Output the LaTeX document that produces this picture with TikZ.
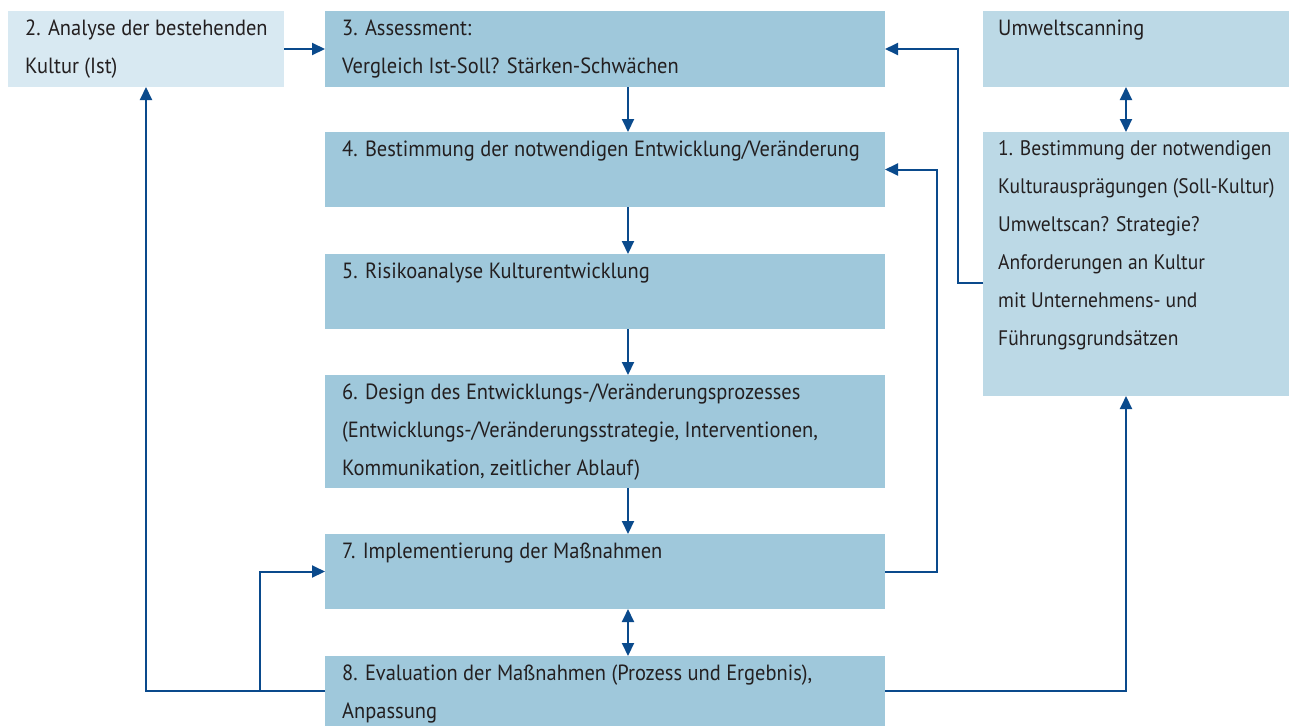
\documentclass[tikz,border=0pt]{standalone}
\usepackage{fontspec}
\setmainfont{PT Sans}[FakeStretch=0.93]
\usetikzlibrary{arrows.meta}
\definecolor{boxdark}{HTML}{9FC8DB}
\definecolor{boxmid}{HTML}{BCD9E6}
\definecolor{boxlight}{HTML}{D8E9F2}
\definecolor{arrowblue}{HTML}{0A4A8C}
\definecolor{textgray}{HTML}{231F20}
\tikzset{box/.style={inner sep=0pt, outer sep=0pt, anchor=north west, fill=boxdark}}
\tikzset{txt/.style={inner sep=0pt, anchor=north west, align=left, text=textgray, font=\fontsize{22}{38}\selectfont, execute at begin node=\strut}}
\tikzset{conn/.style={color=arrowblue, line width=2, -{Triangle[length=13,width=12]}}}
\tikzset{conn2/.style={conn, {Triangle[length=13,width=12]}-{Triangle[length=13,width=12]}}}

\begin{document}
\begin{tikzpicture}[x=1pt, y=-1pt]
  \useasboundingbox (0,0) rectangle (1289,726);

  \node[box, fill=boxlight, minimum width=276, minimum height=76] (ist) at (8,11) {};
  \node[box, minimum width=560, minimum height=76] (assess) at (325,11) {};
  \node[box, minimum width=560, minimum height=75] (bestimm) at (325,132) {};
  \node[box, minimum width=560, minimum height=75] (risiko) at (325,254) {};
  \node[box, minimum width=560, minimum height=113] (design) at (325,375) {};
  \node[box, minimum width=560, minimum height=75] (impl) at (325,534) {};
  \node[box, minimum width=560, minimum height=70] (eval) at (325,656) {};
  \node[box, fill=boxmid, minimum width=306, minimum height=76] (umwelt) at (983,11) {};
  \node[box, fill=boxmid, minimum width=306, minimum height=264] (soll) at (983,132) {};

  \node[txt] (ist-t) at ([shift={(17,9)}]ist.north west) {2. Analyse der bestehenden\\Kultur (Ist)};
  \node[txt] (assess-t) at ([shift={(17,9)}]assess.north west) {3. Assessment:\\Vergleich Ist-Soll? Stärken-Schwächen};
  \node[txt] (bestimm-t) at ([shift={(17,-2)}]bestimm.north west) {4. Bestimmung der notwendigen Entwicklung/Veränderung};
  \node[txt] (risiko-t) at ([shift={(17,-2)}]risiko.north west) {5. Risikoanalyse Kulturentwicklung};
  \node[txt] (design-t) at ([shift={(17,9)}]design.north west) {6. Design des Entwicklungs-/Veränderungsprozesses\\(Entwicklungs-/Veränderungsstrategie, Interventionen,\\Kommunikation, zeitlicher Ablauf)};
  \node[txt] (impl-t) at ([shift={(17,-2)}]impl.north west) {7. Implementierung der Maßnahmen};
  \node[txt] (eval-t) at ([shift={(17,9)}]eval.north west) {8. Evaluation der Maßnahmen (Prozess und Ergebnis),\\Anpassung};
  \node[txt] (umwelt-t) at ([shift={(15,-2)}]umwelt.north west) {Umweltscanning};
  \node[txt, font=\fontsize{21}{38}\selectfont] (soll-t) at ([shift={(15,8)}]soll.north west) {1. Bestimmung der notwendigen\\Kulturausprägungen (Soll-Kultur)\\Umweltscan? Strategie?\\Anforderungen an Kultur\\mit Unternehmens- und\\Führungsgrundsätzen};

  \coordinate (mx) at (628,0);
  \coordinate (ax) at (1126,0);
  \coordinate (br) at (260,0);

  \draw[conn] (ist.east) -- (assess.west);
  \draw[conn] (assess.south -| mx) -- (bestimm.north -| mx);
  \draw[conn] (bestimm.south -| mx) -- (risiko.north -| mx);
  \draw[conn] (risiko.south -| mx) -- (design.north -| mx);
  \draw[conn] (design.south -| mx) -- (impl.north -| mx);
  \draw[conn2] (impl.south -| mx) -- (eval.north -| mx);
  \draw[conn2] (umwelt.south -| ax) -- (soll.north -| ax);

  \draw[conn] (soll.west |- 0,283) -- (958,283) |- (assess.east);
  \draw[conn] (impl.east) -- (937,571.5) |- (bestimm.east);
  \draw[conn] (eval.east) -| (ax |- soll.south);
  \draw[conn] (eval.west) -| (ist.south);
  \draw[conn] (br |- eval.west) |- (impl.west);
\end{tikzpicture}
\end{document}
